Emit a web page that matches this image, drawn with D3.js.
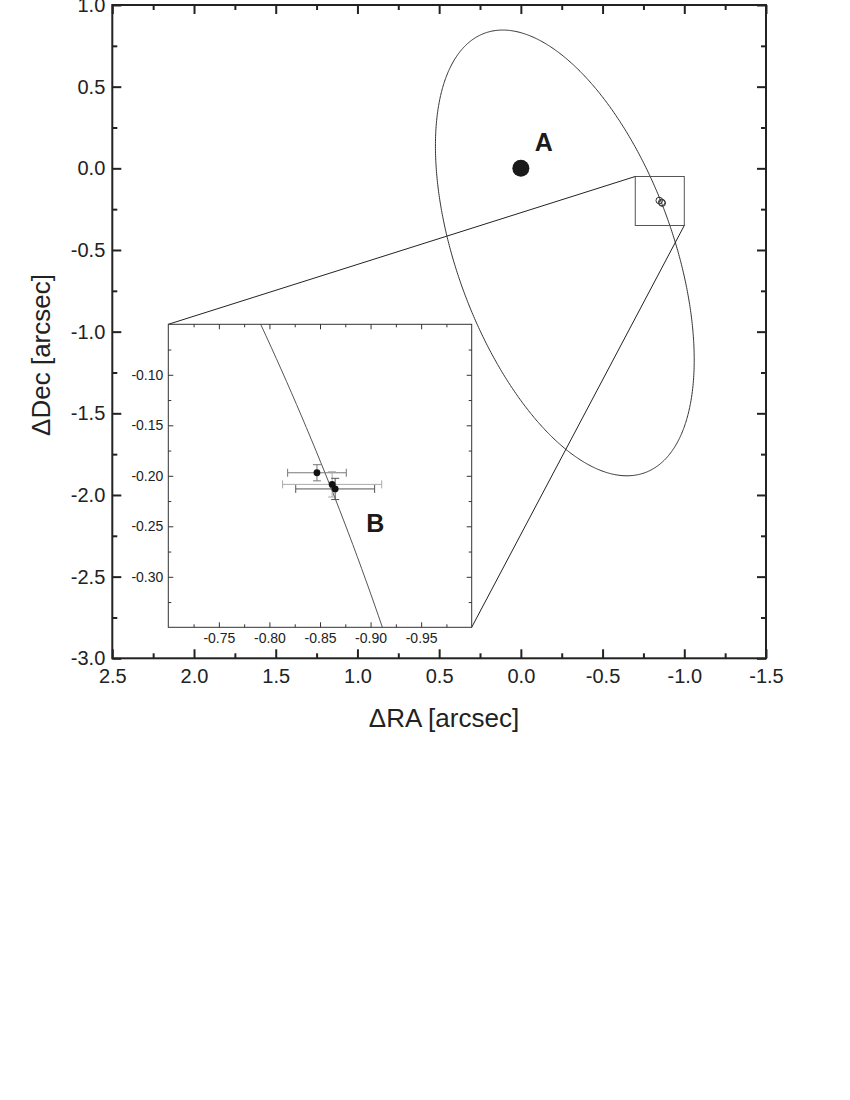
<!DOCTYPE html>
<html>
<head>
<meta charset="utf-8">
<script src="https://cdn.jsdelivr.net/npm/d3@7"></script>
<style>
  html, body { margin: 0; padding: 0; background: #fff; }
  svg { display: block; font-family: "Liberation Sans", Arial, Helvetica, sans-serif; }
</style>
</head>
<body>
<svg id="chart" width="850" height="1100"></svg>
<script>
// ---------- data ----------
const mainXTicks = [2.5, 2.0, 1.5, 1.0, 0.5, 0.0, -0.5, -1.0, -1.5];
const mainYTicks = [-3.0, -2.5, -2.0, -1.5, -1.0, -0.5, 0.0, 0.5, 1.0];
const mainXMinor = [2.25, 1.75, 1.25, 0.75, 0.25, -0.25, -0.75, -1.25];
const mainYMinor = [-2.75, -2.25, -1.75, -1.25, -0.75, -0.25, 0.25, 0.75];
const insetXTicks = [-0.75, -0.80, -0.85, -0.90, -0.95];
const insetYTicks = [-0.10, -0.15, -0.20, -0.25, -0.30];
const insetXMinor = [-0.725, -0.775, -0.825, -0.875, -0.925, -0.975];
const insetYMinor = [-0.075, -0.125, -0.175, -0.225, -0.275, -0.325];
const insetXDomain = [-0.70, -1.00];
const insetYDomain = [-0.35, -0.05];

// primary star A
const primaryRA = [0.0];
const primaryDec = [0.0];
const primaryLabel = ["A"];

// companion B measurements
const compRA = [-0.847, -0.862, -0.865];
const compDec = [-0.197, -0.2085, -0.213];
const compRAErr = [0.029, 0.049, 0.039];
const compDecErr = [0.008, 0.0125, 0.0105];
const compLabel = ["B"];

// apparent orbit ellipse (center, semi-axes, orientation in degrees)
const orbitCenter = [-0.269, -0.518];
const orbitAxes = [1.432, 0.662];
const orbitAngle = [70];

// ---------- layout ----------
const svg = d3.select("#chart");
const x = d3.scaleLinear().domain([2.5, -1.5]).range([112.3, 766]);
const y = d3.scaleLinear().domain([-3, 1]).range([658.3, 5]);
const xi = d3.scaleLinear().domain(insetXDomain).range([168.3, 471.7]);
const yi = d3.scaleLinear().domain(insetYDomain).range([627.3, 324.3]);
const fmt1 = d => d.toFixed(1);
const fmt2 = d => d.toFixed(2);
const ink = "#222";

function ellipsePoints() {
  const th = orbitAngle[0] * Math.PI / 180;
  const [cx, cy] = orbitCenter, [a, b] = orbitAxes;
  return d3.range(0, 721).map(i => {
    const t = i / 720 * 2 * Math.PI;
    return [cx + a * Math.cos(t) * Math.cos(th) - b * Math.sin(t) * Math.sin(th),
            cy + a * Math.cos(t) * Math.sin(th) + b * Math.sin(t) * Math.cos(th)];
  });
}
const orbitPts = ellipsePoints();

// ---------- main axes ----------
const gMain = svg.append("g");
function styleAxis(g, w) {
  g.selectAll(".domain").remove();
  g.selectAll("line").attr("stroke", ink).attr("stroke-width", w);
  g.selectAll("text").attr("fill", ink);
}
// bottom
gMain.append("g").attr("transform", `translate(0,${y(-3)})`)
  .call(d3.axisBottom(x).tickValues(mainXTicks).tickSize(-9).tickPadding(11).tickFormat(fmt1))
  .call(g => { styleAxis(g, 2); g.selectAll("text").attr("font-size", 20).attr("font-family", "Liberation Sans, Arial"); });
gMain.append("g").attr("transform", `translate(0,${y(-3)})`)
  .call(d3.axisBottom(x).tickValues(mainXMinor).tickSize(-5).tickFormat(""))
  .call(g => styleAxis(g, 2));
// top
gMain.append("g").attr("transform", `translate(0,${y(1)})`)
  .call(d3.axisTop(x).tickValues(mainXTicks).tickSize(-9).tickFormat(""))
  .call(g => styleAxis(g, 2));
gMain.append("g").attr("transform", `translate(0,${y(1)})`)
  .call(d3.axisTop(x).tickValues(mainXMinor).tickSize(-5).tickFormat(""))
  .call(g => styleAxis(g, 2));
// left
gMain.append("g").attr("transform", `translate(${x(2.5)},0)`)
  .call(d3.axisLeft(y).tickValues(mainYTicks).tickSize(-9).tickPadding(7).tickFormat(fmt1))
  .call(g => { styleAxis(g, 2); g.selectAll("text").attr("font-size", 20).attr("font-family", "Liberation Sans, Arial"); });
gMain.append("g").attr("transform", `translate(${x(2.5)},0)`)
  .call(d3.axisLeft(y).tickValues(mainYMinor).tickSize(-5).tickFormat(""))
  .call(g => styleAxis(g, 2));
// right
gMain.append("g").attr("transform", `translate(${x(-1.5)},0)`)
  .call(d3.axisRight(y).tickValues(mainYTicks).tickSize(-9).tickFormat(""))
  .call(g => styleAxis(g, 2));
gMain.append("g").attr("transform", `translate(${x(-1.5)},0)`)
  .call(d3.axisRight(y).tickValues(mainYMinor).tickSize(-5).tickFormat(""))
  .call(g => styleAxis(g, 2));
// frame
gMain.append("rect")
  .attr("x", x(2.5)).attr("y", y(1))
  .attr("width", x(-1.5) - x(2.5)).attr("height", y(-3) - y(1))
  .attr("fill", "none").attr("stroke", ink).attr("stroke-width", 2);

// axis titles
svg.append("text").attr("x", 444).attr("y", 727).attr("text-anchor", "middle")
  .attr("font-size", 26).attr("fill", ink).text("\u0394RA [arcsec]");
svg.append("text").attr("transform", "translate(50,355) rotate(-90)").attr("text-anchor", "middle")
  .attr("font-size", 26).attr("fill", ink).text("\u0394Dec [arcsec]");

// ---------- main plot content ----------
const lineMain = d3.line().x(d => x(d[0])).y(d => y(d[1]));
gMain.append("path").attr("d", lineMain(orbitPts))
  .attr("fill", "none").attr("stroke", "#333").attr("stroke-width", 1);

gMain.selectAll(".primary").data(primaryRA).join("circle")
  .attr("cx", (d) => x(d)).attr("cy", (d, i) => y(primaryDec[i])).attr("r", 8.5).attr("fill", "#1a1a1a");
gMain.append("text").attr("x", x(primaryRA[0]) + 23).attr("y", y(primaryDec[0]) - 17)
  .attr("text-anchor", "middle").attr("font-size", 25).attr("font-weight", "bold")
  .attr("fill", "#1a1a1a").text(primaryLabel[0]);

// zoom box
gMain.append("rect")
  .attr("x", x(insetXDomain[0])).attr("y", y(insetYDomain[1]))
  .attr("width", x(insetXDomain[1]) - x(insetXDomain[0]))
  .attr("height", y(insetYDomain[0]) - y(insetYDomain[1]))
  .attr("fill", "none").attr("stroke", "#555").attr("stroke-width", 1);

// small open circles for B positions
gMain.selectAll(".compMain").data(compRA).join("circle")
  .attr("cx", d => x(d)).attr("cy", (d, i) => y(compDec[i])).attr("r", 3.3)
  .attr("fill", "none").attr("stroke", "#333").attr("stroke-width", 1);

// connector lines
gMain.append("line")
  .attr("x1", xi(insetXDomain[0])).attr("y1", yi(insetYDomain[1]))
  .attr("x2", x(insetXDomain[0])).attr("y2", y(insetYDomain[1]))
  .attr("stroke", "#222").attr("stroke-width", 1);
gMain.append("line")
  .attr("x1", xi(insetXDomain[1])).attr("y1", yi(insetYDomain[0]))
  .attr("x2", x(insetXDomain[1])).attr("y2", y(insetYDomain[0]))
  .attr("stroke", "#222").attr("stroke-width", 1);

// ---------- inset ----------
const gIn = svg.append("g");
gIn.append("rect").attr("x", xi.range()[0]).attr("y", yi.range()[1])
  .attr("width", xi.range()[1] - xi.range()[0]).attr("height", yi.range()[0] - yi.range()[1])
  .attr("fill", "#fff");
svg.append("clipPath").attr("id", "insetClip").append("rect")
  .attr("x", xi.range()[0]).attr("y", yi.range()[1])
  .attr("width", xi.range()[1] - xi.range()[0]).attr("height", yi.range()[0] - yi.range()[1]);

const lineIn = d3.line().x(d => xi(d[0])).y(d => yi(d[1]));
gIn.append("path").attr("d", lineIn(orbitPts)).attr("clip-path", "url(#insetClip)")
  .attr("fill", "none").attr("stroke", "#555").attr("stroke-width", 1);

// inset axes
function styleIn(g) {
  g.selectAll(".domain").remove();
  g.selectAll("line").attr("stroke", "#333").attr("stroke-width", 1);
  g.selectAll("text").attr("fill", ink).attr("font-size", 14).attr("font-family", "Liberation Sans, Arial");
}
gIn.append("g").attr("transform", `translate(0,${yi.range()[0]})`)
  .call(d3.axisBottom(xi).tickValues(insetXTicks).tickSize(-5).tickPadding(6).tickFormat(fmt2)).call(styleIn);
gIn.append("g").attr("transform", `translate(0,${yi.range()[0]})`)
  .call(d3.axisBottom(xi).tickValues(insetXMinor).tickSize(-3).tickFormat("")).call(styleIn);
gIn.append("g").attr("transform", `translate(0,${yi.range()[1]})`)
  .call(d3.axisTop(xi).tickValues(insetXTicks).tickSize(-5).tickFormat("")).call(styleIn);
gIn.append("g").attr("transform", `translate(0,${yi.range()[1]})`)
  .call(d3.axisTop(xi).tickValues(insetXMinor).tickSize(-3).tickFormat("")).call(styleIn);
gIn.append("g").attr("transform", `translate(${xi.range()[0]},0)`)
  .call(d3.axisLeft(yi).tickValues(insetYTicks).tickSize(-5).tickPadding(5).tickFormat(fmt2)).call(styleIn);
gIn.append("g").attr("transform", `translate(${xi.range()[0]},0)`)
  .call(d3.axisLeft(yi).tickValues(insetYMinor).tickSize(-3).tickFormat("")).call(styleIn);
gIn.append("g").attr("transform", `translate(${xi.range()[1]},0)`)
  .call(d3.axisRight(yi).tickValues(insetYTicks).tickSize(-5).tickFormat("")).call(styleIn);
gIn.append("g").attr("transform", `translate(${xi.range()[1]},0)`)
  .call(d3.axisRight(yi).tickValues(insetYMinor).tickSize(-3).tickFormat("")).call(styleIn);
gIn.append("rect").attr("x", xi.range()[0]).attr("y", yi.range()[1])
  .attr("width", xi.range()[1] - xi.range()[0]).attr("height", yi.range()[0] - yi.range()[1])
  .attr("fill", "none").attr("stroke", "#333").attr("stroke-width", 1);

// error bars
const errColors = ["#777", "#aaa", "#555"];
const cap = 4;
const eb = gIn.selectAll(".eb").data(compRA).join("g");
eb.each(function (d, i) {
  const g = d3.select(this), c = errColors[i];
  const x0 = xi(d - compRAErr[i]), x1 = xi(d + compRAErr[i]);
  const y0 = yi(compDec[i] - compDecErr[i]), y1 = yi(compDec[i] + compDecErr[i]);
  const cx = xi(d), cy = yi(compDec[i]);
  const segs = [
    [x0, cy, x1, cy], [x0, cy - cap, x0, cy + cap], [x1, cy - cap, x1, cy + cap],
    [cx, y0, cx, y1], [cx - cap, y0, cx + cap, y0], [cx - cap, y1, cx + cap, y1]
  ];
  g.selectAll("line").data(segs).join("line")
    .attr("x1", s => s[0]).attr("y1", s => s[1]).attr("x2", s => s[2]).attr("y2", s => s[3])
    .attr("stroke", c).attr("stroke-width", 1);
});
gIn.selectAll(".compPt").data(compRA).join("circle")
  .attr("cx", d => xi(d)).attr("cy", (d, i) => yi(compDec[i])).attr("r", 3.4).attr("fill", "#111");

gIn.append("text").attr("x", xi(-0.9047)).attr("y", yi(-0.2552))
  .attr("text-anchor", "middle").attr("font-size", 25).attr("font-weight", "bold")
  .attr("fill", "#1a1a1a").text(compLabel[0]);
</script>
</body>
</html>
